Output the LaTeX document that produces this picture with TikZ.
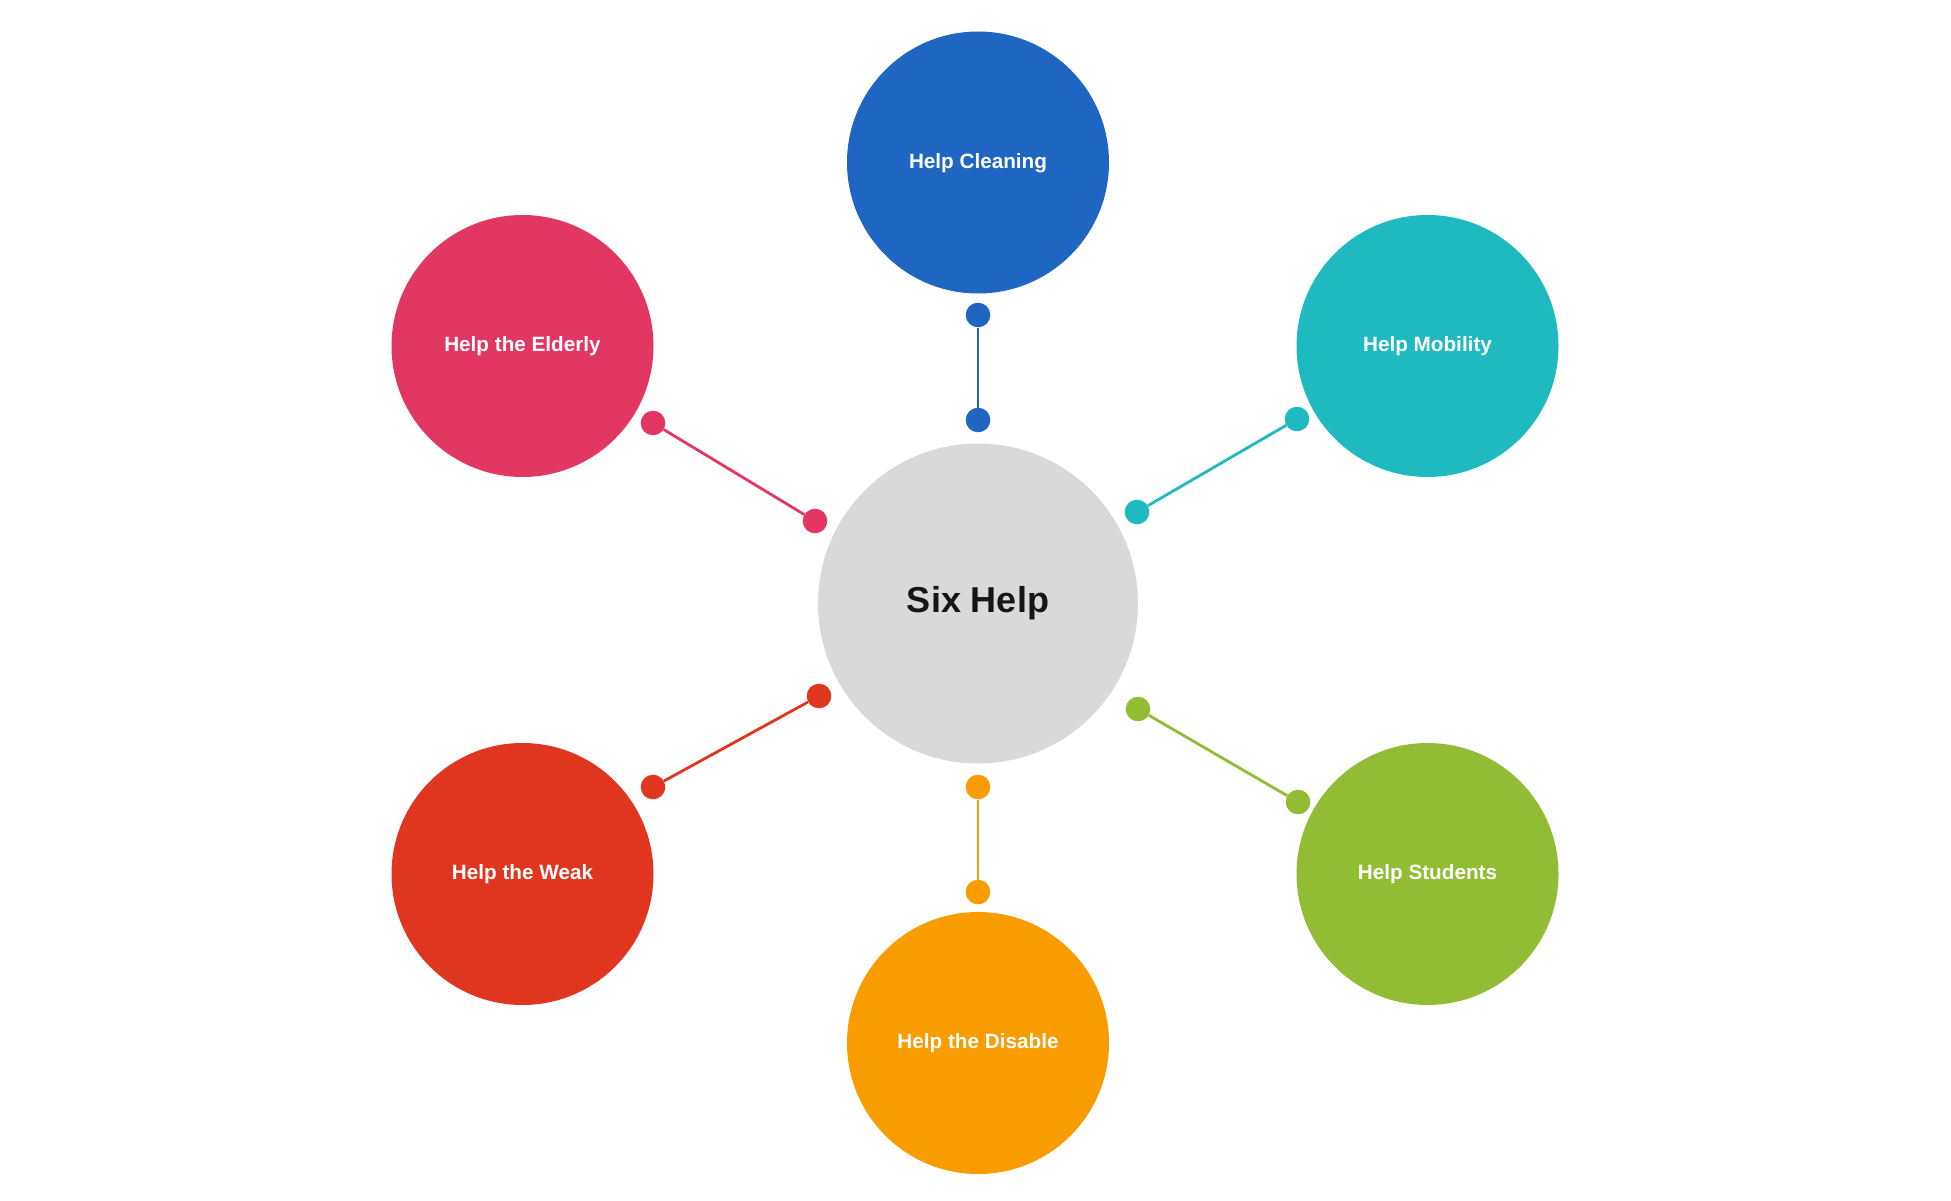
\documentclass[tikz,border=0pt]{standalone}
\usepackage{fontspec}
\setmainfont{Liberation Sans}
\definecolor{cblue}{HTML}{1E66C1}
\definecolor{cpink}{HTML}{E23763}
\definecolor{cteal}{HTML}{1FBAC0}
\definecolor{cred}{HTML}{E0361F}
\definecolor{cgreen}{HTML}{92BC34}
\definecolor{corange}{HTML}{F99C00}
\definecolor{cgray}{HTML}{D9D9D9}
\definecolor{ctext}{HTML}{161616}
\tikzset{
  topic/.style={circle, fill=#1, minimum size=262pt, inner sep=0pt, text=white,
    font=\bfseries\fontsize{20.7}{24}\selectfont, text height=14.8pt, text depth=3.6pt},
  hub/.style={circle, fill=cgray, minimum size=320pt, inner sep=0pt, text=ctext,
    font=\bfseries\fontsize{36}{42}\selectfont, text height=25.8pt, text depth=7.6pt},
  knob/.style={circle, fill=#1, minimum size=24.6pt, inner sep=0pt},
  link/.style={draw=#1, line width=2.8pt}
}
\begin{document}
\begin{tikzpicture}[x=1pt,y=-1pt]
\useasboundingbox (0,0) rectangle (1951,1201);
\node[hub] (c) at (978,603.5) {Six Help};
\node[topic=cblue] (t1) at (978,162.5) {Help Cleaning};
\node[topic=cteal] (t2) at (1427.5,346) {Help Mobility};
\node[topic=cgreen] (t3) at (1427.5,874) {Help Students};
\node[topic=corange] (t4) at (978,1043) {Help the Disable};
\node[topic=cred] (t5) at (522.5,874) {Help the Weak};
\node[topic=cpink] (t6) at (522.5,346) {Help the Elderly};
% knobs
\node[knob=cblue] (a1) at (978,315) {};
\node[knob=cblue] (b1) at (978,420) {};
\node[knob=cteal] (a2) at (1297,419) {};
\node[knob=cteal] (b2) at (1137,512) {};
\node[knob=cgreen] (a3) at (1298,802) {};
\node[knob=cgreen] (b3) at (1138,709) {};
\node[knob=corange] (a4) at (978,892) {};
\node[knob=corange] (b4) at (978,787) {};
\node[knob=cred] (a5) at (653,787) {};
\node[knob=cred] (b5) at (819,696) {};
\node[knob=cpink] (a6) at (653,423) {};
\node[knob=cpink] (b6) at (815,521) {};
\draw[link=cblue] (a1) -- (b1);
\draw[link=cteal] (a2) -- (b2);
\draw[link=cgreen] (a3) -- (b3);
\draw[link=corange] (a4) -- (b4);
\draw[link=cred] (a5) -- (b5);
\draw[link=cpink] (a6) -- (b6);
\end{tikzpicture}
\end{document}
